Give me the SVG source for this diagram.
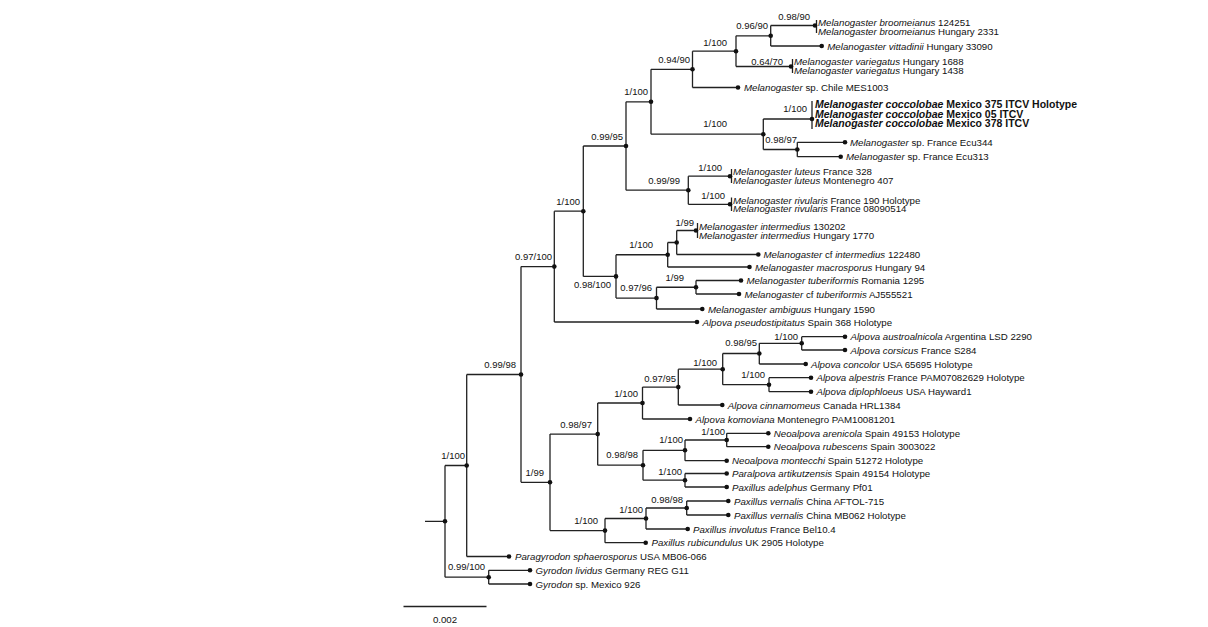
<svg xmlns="http://www.w3.org/2000/svg" width="1208" height="627" viewBox="0 0 1208 627">
<style>
text{font-family:"Liberation Sans",Arial,sans-serif;fill:#111}
.t{font-size:9.7px}
.b{font-size:10.5px;font-weight:bold}
.i{font-style:italic}
.l{font-size:9.5px;text-anchor:end}
.e{fill:none;stroke:#222;stroke-width:1.3}
.d{fill:#111}
</style>
<rect width="1208" height="627" fill="#fff"/>
<g id="connectors" class="e">
<path d="M425 521.3H445M445 465.5V577.2M445 465.5H466.7M445 577.2H488.7"/>
<path d="M488.7 570.3V584M488.7 570.3H530M488.7 584H530"/>
<path d="M466.7 374.5V556.5M466.7 374.5H521M466.7 556.5H509"/>
<path d="M521 266.6V482.3M521 266.6H554.3M521 482.3H550"/>
<path d="M554.3 211.2V322M554.3 211.2H583.3M554.3 322H697"/>
<path d="M583.3 146V276.4M583.3 146H626M583.3 276.4H616"/>
<path d="M626 101.8V190.2M626 101.8H651M626 190.2H688.3"/>
<path d="M651 69.3V134.2M651 69.3H692.5M651 134.2H763.3"/>
<path d="M692.5 51.2V87.5M692.5 51.2H736M692.5 87.5H738"/>
<path d="M736 35.8V66.5M736 35.8H770.7M736 66.5H791"/>
<path d="M770.7 25.5V46M770.7 25.5H815M770.7 46H821.7"/>
<path d="M816.5 20V33M792.5 59V73"/>
<path d="M763.3 119V149.5M763.3 119H812M763.3 149.5H797.3"/>
<path d="M812 101V129"/>
<path d="M797.3 142.3V156.7M797.3 142.3H845M797.3 156.7H840.7"/>
<path d="M688.3 176.2V204.3M688.3 176.2H730M688.3 204.3H730"/>
<path d="M731.5 169V183M731.5 197.5V211"/>
<path d="M616 254.75V298.1M616 254.75H667.7M616 298.1H656.5"/>
<path d="M667.7 242.5V267M667.7 242.5H676.7M667.7 267H749.5"/>
<path d="M676.7 230.5V254.5M676.7 230.5H696M676.7 254.5H758.3"/>
<path d="M697.5 223V238"/>
<path d="M656.5 287.25V309M656.5 287.25H696M656.5 309H702.3"/>
<path d="M696 280.5V294M696 280.5H741M696 294H739"/>
<path d="M550 434.1V530.6M550 434.1H597.7M550 530.6H605"/>
<path d="M597.7 403V465.2M597.7 403H642.5M597.7 465.2H643"/>
<path d="M642.5 387.1V419M642.5 387.1H678.3M642.5 419H690"/>
<path d="M678.3 369.2V405M678.3 369.2H722.7M678.3 405H722.3"/>
<path d="M722.7 353.5V384.7M722.7 353.5H759.3M722.7 384.7H769"/>
<path d="M759.3 343.3V364M759.3 343.3H801.7M759.3 364H805.7"/>
<path d="M801.7 336.7V350M801.7 336.7H845M801.7 350H845"/>
<path d="M769 377.7V391.7M769 377.7H811M769 391.7H811"/>
<path d="M643 450.3V480.2M643 450.3H685M643 480.2H685"/>
<path d="M685 440V460.7M685 440H726.7M685 460.7H726.7"/>
<path d="M726.7 433.3V446.7M726.7 433.3H768.3M726.7 446.7H768.3"/>
<path d="M685 473.5V487M685 473.5H726.7M685 487H726.7"/>
<path d="M605 518.5V542.7M605 518.5H646M605 542.7H645.7"/>
<path d="M646 508V529M646 508H686.7M646 529H687.7"/>
<path d="M686.7 501V515M686.7 501H728.3M686.7 515H728.3"/>
<path d="M403.5 606.5H486.5"/>
</g>
<g id="internal-nodes">
<g id="n-root"><circle class="d" cx="445" cy="521.3" r="2.3"/><text class="l" x="465" y="459.3">1/100</text></g>
<g id="n-A"><circle class="d" cx="466.7" cy="465.5" r="2.3"/></g>
<g id="n-I"><circle class="d" cx="488.7" cy="577.2" r="2.3"/><text class="l" x="485" y="570.3">0.99/100</text></g>
<g id="n-B"><circle class="d" cx="521" cy="374.5" r="2.3"/><text class="l" x="516" y="368.3">0.99/98</text></g>
<g id="n-M0"><circle class="d" cx="554.3" cy="266.6" r="2.3"/><text class="l" x="552" y="260">0.97/100</text></g>
<g id="n-M1"><circle class="d" cx="583.3" cy="211.2" r="2.3"/><text class="l" x="580" y="205">1/100</text></g>
<g id="n-M2"><circle class="d" cx="626" cy="146" r="2.3"/><text class="l" x="623" y="140">0.99/95</text></g>
<g id="n-M3"><circle class="d" cx="651" cy="101.8" r="2.3"/><text class="l" x="648" y="95.3">1/100</text></g>
<g id="n-M4"><circle class="d" cx="692.5" cy="69.3" r="2.3"/><text class="l" x="690" y="63.3">0.94/90</text></g>
<g id="n-M4a"><circle class="d" cx="736" cy="51.2" r="2.3"/><text class="l" x="727" y="45.6">1/100</text></g>
<g id="n-M4b"><circle class="d" cx="770.7" cy="35.8" r="2.3"/><text class="l" x="768" y="29.3">0.96/90</text></g>
<g id="n-broom"><circle class="d" cx="815" cy="25.5" r="2.3"/><text class="l" x="810" y="19.8">0.98/90</text></g>
<g id="n-varieg"><circle class="d" cx="791" cy="66.5" r="2.3"/><text class="l" x="783" y="65">0.64/70</text></g>
<g id="n-M5"><circle class="d" cx="763.3" cy="134.2" r="2.3"/><text class="l" x="727" y="126.6">1/100</text></g>
<g id="n-cocco"><circle class="d" cx="812" cy="119" r="2.3"/><text class="l" x="807" y="112.3">1/100</text></g>
<g id="n-M6"><circle class="d" cx="797.3" cy="149.5" r="2.3"/><text class="l" x="797" y="143.3">0.98/97</text></g>
<g id="n-M7"><circle class="d" cx="688.3" cy="190.2" r="2.3"/><text class="l" x="680" y="184">0.99/99</text></g>
<g id="n-luteus"><circle class="d" cx="730" cy="176.2" r="2.3"/><text class="l" x="722" y="171.3">1/100</text></g>
<g id="n-rivul"><circle class="d" cx="730" cy="204.3" r="2.3"/><text class="l" x="725" y="199.3">1/100</text></g>
<g id="n-M8"><circle class="d" cx="616" cy="276.4" r="2.3"/><text class="l" x="611" y="288.3">0.98/100</text></g>
<g id="n-M9"><circle class="d" cx="667.7" cy="254.75" r="2.3"/><text class="l" x="653" y="248.3">1/100</text></g>
<g id="n-M10"><circle class="d" cx="676.7" cy="242.5" r="2.3"/></g>
<g id="n-interm"><circle class="d" cx="696" cy="230.5" r="2.3"/><text class="l" x="694" y="225.6">1/99</text></g>
<g id="n-M11"><circle class="d" cx="656.5" cy="298.1" r="2.3"/><text class="l" x="652" y="291">0.97/96</text></g>
<g id="n-tub"><circle class="d" cx="696" cy="287.25" r="2.3"/><text class="l" x="684" y="280.6">1/99</text></g>
<g id="n-C"><circle class="d" cx="550" cy="482.3" r="2.3"/><text class="l" x="544" y="476">1/99</text></g>
<g id="n-D"><circle class="d" cx="597.7" cy="434.1" r="2.3"/><text class="l" x="592" y="427.6">0.98/97</text></g>
<g id="n-E"><circle class="d" cx="642.5" cy="403" r="2.3"/><text class="l" x="638" y="396.6">1/100</text></g>
<g id="n-N1"><circle class="d" cx="678.3" cy="387.1" r="2.3"/><text class="l" x="676" y="381.6">0.97/95</text></g>
<g id="n-N2"><circle class="d" cx="722.7" cy="369.2" r="2.3"/><text class="l" x="717" y="366">1/100</text></g>
<g id="n-N3"><circle class="d" cx="759.3" cy="353.5" r="2.3"/><text class="l" x="757" y="346">0.98/95</text></g>
<g id="n-N5"><circle class="d" cx="801.7" cy="343.3" r="2.3"/><text class="l" x="798" y="340">1/100</text></g>
<g id="n-N4"><circle class="d" cx="769" cy="384.7" r="2.3"/><text class="l" x="765" y="378.3">1/100</text></g>
<g id="n-F"><circle class="d" cx="643" cy="465.2" r="2.3"/><text class="l" x="638" y="458.3">0.98/98</text></g>
<g id="n-F1"><circle class="d" cx="685" cy="450.3" r="2.3"/><text class="l" x="683" y="443.3">1/100</text></g>
<g id="n-F3"><circle class="d" cx="726.7" cy="440" r="2.3"/><text class="l" x="725" y="435">1/100</text></g>
<g id="n-F2"><circle class="d" cx="685" cy="480.2" r="2.3"/><text class="l" x="682" y="475">1/100</text></g>
<g id="n-G"><circle class="d" cx="605" cy="530.6" r="2.3"/><text class="l" x="598" y="524">1/100</text></g>
<g id="n-H"><circle class="d" cx="646" cy="518.5" r="2.3"/><text class="l" x="643" y="512.6">1/100</text></g>
<g id="n-V"><circle class="d" cx="686.7" cy="508" r="2.3"/><text class="l" x="683" y="503.3">0.98/98</text></g>
</g>
<g id="tips">
<g id="tip01"><text class="t" x="818" y="26"><tspan class="i">Melanogaster broomeianus</tspan> 124251</text></g>
<g id="tip02"><text class="t" x="818" y="34.5"><tspan class="i">Melanogaster broomeianus</tspan> Hungary 2331</text></g>
<g id="tip03"><circle class="d" cx="821.7" cy="46" r="2.3"/><text class="t" x="827.3" y="49.5"><tspan class="i">Melanogaster vittadinii</tspan> Hungary 33090</text></g>
<g id="tip04"><text class="t" x="794" y="65"><tspan class="i">Melanogaster variegatus</tspan> Hungary 1688</text></g>
<g id="tip05"><text class="t" x="794" y="74"><tspan class="i">Melanogaster variegatus</tspan> Hungary 1438</text></g>
<g id="tip06"><circle class="d" cx="738" cy="87.5" r="2.3"/><text class="t" x="744" y="91"><tspan class="i">Melanogaster</tspan> sp. Chile MES1003</text></g>
<g id="tip07"><text class="b" x="815" y="107.8"><tspan class="i">Melanogaster coccolobae</tspan> Mexico 375 ITCV Holotype</text></g>
<g id="tip08"><text class="b" x="815" y="117.8"><tspan class="i">Melanogaster coccolobae</tspan> Mexico 05 ITCV</text></g>
<g id="tip09"><text class="b" x="815" y="127.3"><tspan class="i">Melanogaster coccolobae</tspan> Mexico 378 ITCV</text></g>
<g id="tip10"><circle class="d" cx="845" cy="142.3" r="2.3"/><text class="t" x="850" y="145.8"><tspan class="i">Melanogaster</tspan> sp. France Ecu344</text></g>
<g id="tip11"><circle class="d" cx="840.7" cy="156.7" r="2.3"/><text class="t" x="846" y="159.8"><tspan class="i">Melanogaster</tspan> sp. France Ecu313</text></g>
<g id="tip12"><text class="t" x="733" y="175.2"><tspan class="i">Melanogaster luteus</tspan> France 328</text></g>
<g id="tip13"><text class="t" x="733" y="184"><tspan class="i">Melanogaster luteus</tspan> Montenegro 407</text></g>
<g id="tip14"><text class="t" x="733" y="203.5"><tspan class="i">Melanogaster rivularis</tspan> France 190 Holotype</text></g>
<g id="tip15"><text class="t" x="733" y="212"><tspan class="i">Melanogaster rivularis</tspan> France 08090514</text></g>
<g id="tip16"><text class="t" x="699" y="229.5"><tspan class="i">Melanogaster intermedius</tspan> 130202</text></g>
<g id="tip17"><text class="t" x="699" y="238.5"><tspan class="i">Melanogaster intermedius</tspan> Hungary 1770</text></g>
<g id="tip18"><circle class="d" cx="758.3" cy="254.5" r="2.3"/><text class="t" x="763.5" y="258"><tspan class="i">Melanogaster</tspan> cf <tspan class="i">intermedius</tspan> 122480</text></g>
<g id="tip19"><circle class="d" cx="749.5" cy="267" r="2.3"/><text class="t" x="755" y="270.5"><tspan class="i">Melanogaster macrosporus</tspan> Hungary 94</text></g>
<g id="tip20"><circle class="d" cx="741" cy="280.5" r="2.3"/><text class="t" x="746.5" y="284"><tspan class="i">Melanogaster tuberiformis</tspan> Romania 1295</text></g>
<g id="tip21"><circle class="d" cx="739" cy="294" r="2.3"/><text class="t" x="744.5" y="297.5"><tspan class="i">Melanogaster</tspan> cf <tspan class="i">tuberiformis</tspan> AJ555521</text></g>
<g id="tip22"><circle class="d" cx="702.3" cy="309" r="2.3"/><text class="t" x="708" y="312.5"><tspan class="i">Melanogaster ambiguus</tspan> Hungary 1590</text></g>
<g id="tip23"><circle class="d" cx="697" cy="322" r="2.3"/><text class="t" x="702.5" y="325.5"><tspan class="i">Alpova pseudostipitatus</tspan> Spain 368 Holotype</text></g>
<g id="tip24"><circle class="d" cx="845" cy="336.7" r="2.3"/><text class="t" x="850.5" y="340.2"><tspan class="i">Alpova austroalnicola</tspan> Argentina LSD 2290</text></g>
<g id="tip25"><circle class="d" cx="845" cy="350" r="2.3"/><text class="t" x="850.5" y="353.5"><tspan class="i">Alpova corsicus</tspan> France S284</text></g>
<g id="tip26"><circle class="d" cx="805.7" cy="364" r="2.3"/><text class="t" x="811" y="367.5"><tspan class="i">Alpova concolor</tspan> USA 65695 Holotype</text></g>
<g id="tip27"><circle class="d" cx="811" cy="377.7" r="2.3"/><text class="t" x="816.5" y="381.2"><tspan class="i">Alpova alpestris</tspan> France PAM07082629 Holotype</text></g>
<g id="tip28"><circle class="d" cx="811" cy="391.7" r="2.3"/><text class="t" x="816.5" y="395.2"><tspan class="i">Alpova diplophloeus</tspan> USA Hayward1</text></g>
<g id="tip29"><circle class="d" cx="722.3" cy="405" r="2.3"/><text class="t" x="727.8" y="408.5"><tspan class="i">Alpova cinnamomeus</tspan> Canada HRL1384</text></g>
<g id="tip30"><circle class="d" cx="690" cy="419" r="2.3"/><text class="t" x="695.5" y="422.5"><tspan class="i">Alpova komoviana</tspan> Montenegro PAM10081201</text></g>
<g id="tip31"><circle class="d" cx="768.3" cy="433.3" r="2.3"/><text class="t" x="773.8" y="436.8"><tspan class="i">Neoalpova arenicola</tspan> Spain 49153 Holotype</text></g>
<g id="tip32"><circle class="d" cx="768.3" cy="446.7" r="2.3"/><text class="t" x="773.8" y="450.2"><tspan class="i">Neoalpova rubescens</tspan> Spain 3003022</text></g>
<g id="tip33"><circle class="d" cx="726.7" cy="460.7" r="2.3"/><text class="t" x="732" y="464.2"><tspan class="i">Neoalpova montecchi</tspan> Spain 51272 Holotype</text></g>
<g id="tip34"><circle class="d" cx="726.7" cy="473.5" r="2.3"/><text class="t" x="732" y="477"><tspan class="i">Paralpova artikutzensis</tspan> Spain 49154 Holotype</text></g>
<g id="tip35"><circle class="d" cx="726.7" cy="487" r="2.3"/><text class="t" x="732" y="490.5"><tspan class="i">Paxillus adelphus</tspan> Germany Pf01</text></g>
<g id="tip36"><circle class="d" cx="728.3" cy="501" r="2.3"/><text class="t" x="734" y="504.5"><tspan class="i">Paxillus vernalis</tspan> China AFTOL-715</text></g>
<g id="tip37"><circle class="d" cx="728.3" cy="515" r="2.3"/><text class="t" x="734" y="518.5"><tspan class="i">Paxillus vernalis</tspan> China MB062 Holotype</text></g>
<g id="tip38"><circle class="d" cx="687.7" cy="529" r="2.3"/><text class="t" x="693" y="532.5"><tspan class="i">Paxillus involutus</tspan> France Bel10.4</text></g>
<g id="tip39"><circle class="d" cx="645.7" cy="542.7" r="2.3"/><text class="t" x="651.5" y="546.2"><tspan class="i">Paxillus rubicundulus</tspan> UK 2905 Holotype</text></g>
<g id="tip40"><circle class="d" cx="509" cy="556.5" r="2.3"/><text class="t" x="515" y="560"><tspan class="i">Paragyrodon sphaerosporus</tspan> USA MB06-066</text></g>
<g id="tip41"><circle class="d" cx="530" cy="570.3" r="2.3"/><text class="t" x="535.5" y="573.8"><tspan class="i">Gyrodon lividus</tspan> Germany REG G11</text></g>
<g id="tip42"><circle class="d" cx="530" cy="584" r="2.3"/><text class="t" x="535.5" y="587.5"><tspan class="i">Gyrodon</tspan> sp. Mexico 926</text></g>
</g>
<g id="scale"><text class="t" x="445" y="622.5" text-anchor="middle">0.002</text></g>
</svg>
